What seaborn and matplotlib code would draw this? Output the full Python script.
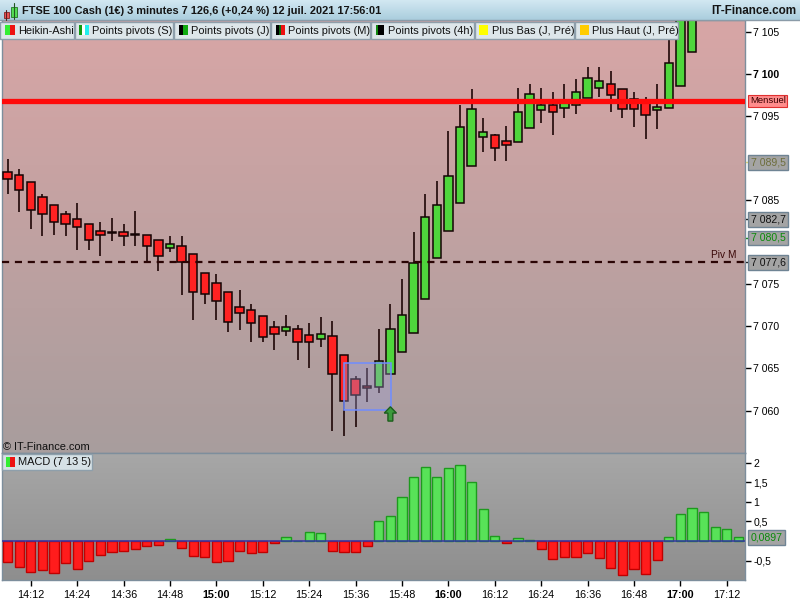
import numpy as np
import pandas as pd
import matplotlib
matplotlib.use("Agg")
import matplotlib.pyplot as plt
import matplotlib.transforms as mtransforms
from matplotlib.patches import Rectangle, FancyArrow
import seaborn as sns

# ---------------- data (Heikin-Ashi, 3-minute candles from 14:06) ----------------
opens = [7088.3, 7088.0, 7087.1, 7085.4, 7084.4, 7083.4, 7082.8, 7082.2, 7081.3, 7081.25,
         7081.2, 7080.95, 7080.9, 7080.2, 7079.3, 7079.5, 7078.6, 7076.3, 7075.1, 7074.1,
         7072.3, 7071.9, 7071.2, 7069.9, 7069.5, 7069.7, 7069.0, 7068.5, 7068.8, 7066.6,
         7063.8, 7062.9, 7062.8, 7064.3, 7066.9, 7069.2, 7073.3, 7078.1, 7081.3, 7084.6,
         7089.1, 7092.5, 7092.7, 7092.0, 7091.9, 7093.6, 7095.7, 7096.3, 7095.9, 7096.3,
         7097.1, 7098.3, 7098.75, 7098.2, 7097.0, 7096.85, 7095.7, 7095.9, 7098.5, 7102.55]
highs = [7089.9, 7088.7, 7087.1, 7085.7, 7084.4, 7083.7, 7084.7, 7082.2, 7082.4, 7082.9,
         7082.2, 7083.7, 7080.9, 7080.2, 7080.7, 7080.7, 7078.6, 7076.3, 7076.2, 7074.1,
         7074.3, 7072.7, 7071.2, 7070.6, 7071.4, 7070.2, 7070.4, 7071.1, 7070.6, 7066.6,
         7064.1, 7065.1, 7069.7, 7072.7, 7075.6, 7081.2, 7085.7, 7087.3, 7093.2, 7096.3,
         7098.2, 7094.75, 7092.8, 7093.8, 7098.3, 7098.8, 7098.3, 7097.8, 7098.8, 7099.4,
         7100.8, 7100.8, 7100.3, 7098.2, 7097.8, 7097.3, 7098.75, 7104.1, 7108.5, 7111.0]
lows = [7085.7, 7083.6, 7081.6, 7080.7, 7080.8, 7080.7, 7079.1, 7079.1, 7078.3, 7080.1,
        7079.6, 7079.6, 7077.8, 7076.6, 7078.8, 7073.7, 7070.8, 7072.6, 7070.8, 7069.3,
        7069.6, 7068.1, 7068.1, 7067.2, 7068.8, 7066.0, 7065.1, 7067.6, 7057.6, 7057.0,
        7058.1, 7061.05, 7062.1, 7064.3, 7066.9, 7069.2, 7073.3, 7078.1, 7081.3, 7084.6,
        7089.1, 7090.75, 7089.7, 7089.7, 7091.9, 7093.6, 7094.2, 7092.7, 7094.75, 7095.2,
        7097.1, 7097.3, 7095.5, 7094.8, 7093.7, 7092.3, 7093.5, 7095.9, 7098.5, 7102.55]
closes = [7087.5, 7086.2, 7083.8, 7083.3, 7082.4, 7082.2, 7081.8, 7080.3, 7080.9, 7081.15,
          7080.7, 7080.85, 7079.5, 7078.4, 7079.8, 7077.7, 7074.1, 7073.9, 7073.0, 7070.5,
          7071.6, 7070.4, 7068.7, 7069.1, 7069.9, 7068.2, 7068.1, 7069.1, 7064.4, 7061.1,
          7061.8, 7062.65, 7065.9, 7069.7, 7071.4, 7077.5, 7083.0, 7084.4, 7087.9, 7093.7,
          7095.8, 7093.05, 7091.15, 7091.6, 7095.5, 7097.6, 7096.3, 7095.5, 7096.7, 7097.8,
          7099.5, 7099.2, 7097.45, 7095.8, 7095.8, 7095.1, 7096.1, 7101.25, 7107.5, 7110.0]

macd = [-0.53, -0.67, -0.78, -0.73, -0.81, -0.57, -0.71, -0.50, -0.35, -0.27,
        -0.25, -0.20, -0.14, -0.09, 0.05, -0.17, -0.37, -0.40, -0.53, -0.50,
        -0.25, -0.30, -0.27, -0.04, 0.09, 0.01, 0.23, 0.20, -0.25, -0.27,
        -0.27, -0.14, 0.51, 0.65, 1.11, 1.62, 1.88, 1.62, 1.85, 1.93,
        1.50, 0.81, 0.14, -0.04, 0.07, 0.03, -0.21, -0.47, -0.42, -0.42,
        -0.31, -0.44, -0.70, -0.88, -0.72, -0.85, -0.49, 0.09, 0.68, 0.83,
        0.74, 0.35, 0.30, 0.0897]

tick_pos = [2, 6, 10, 14, 18, 22, 26, 30, 34, 38, 42, 46, 50, 54, 58, 62]
tick_labels = ["14:12", "14:24", "14:36", "14:48", "15:00", "15:12", "15:24", "15:36",
               "15:48", "16:00", "16:12", "16:24", "16:36", "16:48", "17:00", "17:12"]
bold_times = ["15:00", "16:00", "17:00"]

price_ticks = [7060, 7065, 7070, 7075, 7085, 7095, 7100, 7105]
price_tick_labels = ["7 060", "7 065", "7 070", "7 075", "7 085", "7 095", "7 100", "7 105"]
macd_ticks = [-0.5, 0.5, 1, 1.5, 2]
macd_tick_labels = ["-0,5", "0,5", "1", "1,5", "2"]

mensuel_level = 7096.8
pivot_m_level = 7077.6
marker_levels = [7089.5, 7082.7, 7080.5, 7077.6]
marker_labels = ["7 089,5", "7 082,7", "7 080,5", "7 077,6"]
marker_colors = ["#6e6e3c", "#111111", "#0a8a0a", "#111111"]
marker_ticks = ["#e8e070", "#111111", "#0a8a0a", "#111111"]
last_macd = 0.0897
last_macd_label = "0,0897"

title = "FTSE 100 Cash (1€) 3 minutes 7 126,6 (+0,24 %) 12 juil. 2021 17:56:01"
legend_items = ["Heikin-Ashi", "Points pivots (S)", "Points pivots (J)", "Points pivots (M)",
                "Points pivots (4h)", "Plus Bas (J, Pré)", "Plus Haut (J, Pré)"]

# ---------------- style ----------------
sns.set_theme(style="white")
plt.rcParams["font.family"] = ["Liberation Sans", "DejaVu Sans"]

W, H = 800, 600
fig = plt.figure(figsize=(8, 6), dpi=100)
fig.patch.set_facecolor("white")


def rect(x0, y0, x1, y1):
    return [x0 / W, 1 - y1 / H, (x1 - x0) / W, (y1 - y0) / H]


ax = fig.add_axes(rect(2, 20, 745, 453))
axm = fig.add_axes(rect(2, 453, 745, 580))

XMIN, XMAX = -0.48, 63.57
YMIN, YMAX = 7054.96, 7106.39
MMIN, MMAX = -0.995, 2.245

GREEN = "#4fd63c"
RED = "#ff2222"
SPINE = "#7d8e9c"


def gradient(axis, x0, x1, y0, y1, ctop, cbot):
    t = np.linspace(0, 1, 256)[:, None, None]
    ctop = np.array(ctop) / 255.0
    cbot = np.array(cbot) / 255.0
    img = ctop * (1 - t) + cbot * t
    axis.imshow(img, extent=(x0, x1, y0, y1), aspect="auto", origin="upper", zorder=0)


# ---------------- price panel ----------------
ax.set_xlim(XMIN, XMAX)
ax.set_ylim(YMIN, YMAX)
gradient(ax, XMIN, XMAX, YMIN, YMAX, (216, 166, 166), (168, 157, 157))

df = pd.DataFrame({"o": opens, "h": highs, "l": lows, "c": closes})
df["x"] = np.arange(len(df))
df["up"] = df["c"] >= df["o"]
df["bot"] = df[["o", "c"]].min(axis=1)
df["hgt"] = (df["c"] - df["o"]).abs().clip(lower=0.1)

ax.vlines(df["x"], df["l"], df["h"], color="#1e0606", lw=1.2, zorder=2)
ax.bar(df["x"], df["hgt"], bottom=df["bot"], width=0.72,
       color=[GREEN if u else RED for u in df["up"]],
       edgecolor="#140404", linewidth=1.1, zorder=3)

ax.axhline(mensuel_level, color="#ff0a0a", lw=3.8, zorder=4)
ax.axhline(pivot_m_level, color="#2a0404", lw=1.6, dashes=(3.2, 2.6), zorder=5)
ax.text(0.972, pivot_m_level + 0.25, "Piv M", transform=mtransforms.blended_transform_factory(ax.transAxes, ax.transData),
        ha="center", va="bottom", fontsize=7.3, color="#3a0808", zorder=6)

# pattern box + arrow
ax.add_patch(Rectangle((29.03, 7060.04), 4.0, 5.61, facecolor=(0.62, 0.62, 0.85, 0.35),
                       edgecolor="#6f8cff", lw=1.1, zorder=6))
ax.add_patch(FancyArrow(33.0, 7058.75, 0, 1.7, width=0.42, head_width=1.05, head_length=0.75,
                        length_includes_head=True, facecolor="#3c9a3c", edgecolor="#1d5e1d",
                        lw=1.0, zorder=7))
ax.set_xlim(XMIN, XMAX)
ax.set_ylim(YMIN, YMAX)

ax.yaxis.tick_right()
ax.set_yticks(price_ticks)
ax.set_yticklabels(price_tick_labels)
for lab in ax.get_yticklabels():
    if lab.get_text() == "7 100":
        lab.set_fontweight("bold")
        lab.set_fontsize(8.4)
ax.tick_params(axis="y", right=True, left=False, length=4, width=1, pad=2,
               labelsize=7.6, colors="black")
ax.set_xticks([])
for s in ax.spines.values():
    s.set_color(SPINE)
    s.set_linewidth(1)

btr = mtransforms.blended_transform_factory(ax.transAxes, ax.transData)
ax.text(1.0065, mensuel_level, "Mensuel", transform=btr, ha="left", va="center", fontsize=6.8,
        color="#3a0000", clip_on=False, zorder=8,
        bbox=dict(boxstyle="square,pad=0.18", fc="#ff8c8c", ec="#e03030", lw=0.8))
for lvl, lab, col, tcol in zip(marker_levels, marker_labels, marker_colors, marker_ticks):
    ax.plot([1.0, 1.006], [lvl, lvl], transform=btr, color=tcol, lw=1, clip_on=False)
    ax.text(1.0075, lvl, lab, transform=btr, ha="left", va="center", fontsize=7.6,
            color=col, clip_on=False, zorder=8,
            bbox=dict(boxstyle="square,pad=0.22", fc="#a4a4a4", ec="#6f8494", lw=1))

# ---------------- MACD panel ----------------
mdf = pd.DataFrame({"x": np.arange(len(macd)), "v": macd})
mdf["dir"] = np.where(mdf["v"] >= 0, "up", "down")
axm.set_xlim(XMIN, XMAX)
axm.set_ylim(MMIN, MMAX)
gradient(axm, XMIN, XMAX, MMIN, MMAX, (167, 167, 167), (142, 142, 142))
sns.barplot(data=mdf, x="x", y="v", hue="dir", palette={"up": "#58e258", "down": "#ff1c1c"},
            native_scale=True, dodge=False, width=0.8, errorbar=None, legend=False,
            ax=axm, zorder=3, saturation=1)
for p in axm.patches:
    if isinstance(p, Rectangle) and p.get_width() < 2:
        p.set_edgecolor("#1e9a1e" if p.get_height() >= 0 else "#c00000")
        p.set_linewidth(1.0)
axm.axhline(0, color="#3434a8", lw=1.1, zorder=4)
axm.set_xlim(XMIN, XMAX)
axm.set_ylim(MMIN, MMAX)
axm.set_xlabel("")
axm.set_ylabel("")
axm.yaxis.tick_right()
axm.set_yticks(macd_ticks)
axm.set_yticklabels(macd_tick_labels)
axm.tick_params(axis="y", right=True, left=False, length=4, width=1, pad=2,
                labelsize=7.6, colors="black")
axm.set_xticks(tick_pos)
axm.set_xticklabels(tick_labels)
for lab in axm.get_xticklabels():
    if lab.get_text() in bold_times:
        lab.set_fontweight("bold")
        lab.set_fontsize(8.6)
axm.tick_params(axis="x", bottom=True, length=4, width=1, pad=3, labelsize=7.8, colors="black")
for s in axm.spines.values():
    s.set_color(SPINE)
    s.set_linewidth(1)
bm = mtransforms.blended_transform_factory(axm.transAxes, axm.transData)
axm.text(1.0075, last_macd, last_macd_label, transform=bm, ha="left", va="center", fontsize=7.6,
         color="#0a8a0a", clip_on=False, zorder=8,
         bbox=dict(boxstyle="square,pad=0.22", fc="#a4a4a4", ec="#6f8494", lw=1))

# ---------------- overlay: title bar, legends ----------------
ov = fig.add_axes([0, 0, 1, 1], zorder=10)
ov.patch.set_alpha(0)
ov.axis("off")
ov.set_xlim(0, 800)
ov.set_ylim(600, 0)
gradient(ov, 0, 800, 20, 0, (210, 232, 242), (170, 205, 221))
ov.plot([0, 800], [20, 20], color="#8b9ba8", lw=1)
ov.set_xlim(0, 800)
ov.set_ylim(600, 0)

# title icon
ov.plot([6.2, 6.2], [9.5, 19.5], color="#552222", lw=0.8)
ov.add_patch(Rectangle((3.6, 11.8), 5.2, 6.2, fc="#ee5555", ec="#882222", lw=0.6))
ov.plot([14, 14], [3.2, 19.3], color="#225522", lw=0.8)
ov.add_patch(Rectangle((11.2, 6.8), 5.5, 9.8, fc="#55dd55", ec="#227722", lw=0.6))
ov.text(22, 10.8, title, fontsize=7.95, fontweight="bold", color="#151515", va="center", ha="left")
ov.text(796, 10.8, "IT-Finance.com", fontsize=8.4, fontweight="bold", color="#151515",
        va="center", ha="right")

boxes = [(0, 74), (75, 173), (174, 270), (271, 370), (371, 474), (475, 574), (575, 678)]
icons = [
    [("#33ee33", 5.3, 10), ("#ee1111", 10, 14.7)],
    [("#119911", 79, 82), ("#ffffff", 82, 85), ("#22eeee", 85, 89)],
    [("#000000", 178.7, 182.7), ("#11aa11", 182.7, 187.7)],
    [("#000000", 275.5, 279), ("#116611", 279, 281), ("#ee1111", 281, 284.5)],
    [("#118811", 375.5, 378), ("#000000", 378, 384)],
    [("#ffff00", 479, 487.5)],
    [("#ffcc00", 580, 588.5)],
]
text_x = [18, 91.5, 191, 288, 388, 491.7, 591.7]
for (x0, x1), icn, tx, lab in zip(boxes, icons, text_x, legend_items):
    ov.add_patch(Rectangle((x0, 22), x1 - x0, 16.5, fc="#dde6ea", ec="#8e9fab", lw=1))
    for col, a, b in icn:
        ov.add_patch(Rectangle((a, 25.3), b - a, 9.6, fc=col, ec="none"))
    ov.text(tx, 30.5, lab, fontsize=7.9, color="#111111", va="center", ha="left")

ov.text(3, 447.3, "© IT-Finance.com", fontsize=7.9, color="#111111", va="center", ha="left")
ov.add_patch(Rectangle((2, 454), 90, 16, fc="#d6e1e6", ec="#8e9fab", lw=1))
ov.add_patch(Rectangle((5.5, 457), 4.8, 10, fc="#33ee33", ec="none"))
ov.add_patch(Rectangle((10.3, 457), 4.8, 10, fc="#ee1111", ec="none"))
ov.text(18, 462.3, "MACD (7 13 5)", fontsize=7.9, color="#111111", va="center", ha="left")
ov.set_xlim(0, 800)
ov.set_ylim(600, 0)

fig.savefig("out.png", dpi=100)
